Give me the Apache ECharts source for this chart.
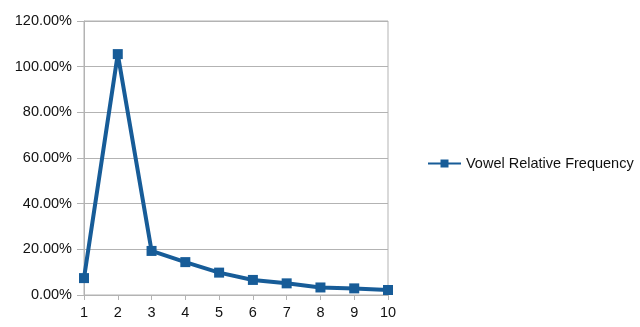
<!DOCTYPE html>
<html><head><meta charset="utf-8">
<script src="https://cdn.jsdelivr.net/npm/echarts@6/dist/echarts.min.js"></script>
<style>html,body{margin:0;padding:0;background:#fff}#c{width:640px;height:327px}</style>
</head><body><div id="c"></div>
<script>
const categories = ['1','2','3','4','5','6','7','8','9','10'];
const seriesName = 'Vowel Relative Frequency';
const values = [0.074, 1.055, 0.193, 0.144, 0.098, 0.066, 0.051, 0.033, 0.029, 0.022];
const yTicks = { min: 0, max: 1.2, interval: 0.2 };

const chart = echarts.init(document.getElementById('c'), null, {renderer:'canvas'});
const fontFamily = '"Liberation Sans", Arial, sans-serif';
chart.setOption({
  animation: false,
  grid: { left: 84, right: 252, top: 21, bottom: 32, show: true, borderColor: '#b3b3b3', borderWidth: 1 },
  legend: {
    data: [seriesName], left: 422, top: 151, orient: 'vertical',
    itemWidth: 33, itemHeight: 10, itemGap: 6,
    textStyle: { fontFamily, fontSize: 14.5, color: '#111' }
  },
  xAxis: {
    type: 'category', data: categories, boundaryGap: false,
    axisLine: { lineStyle: { color: '#b3b3b3' } },
    axisTick: { show: true, alignWithLabel: true, length: 5, lineStyle: { color: '#b3b3b3' } },
    axisLabel: { fontFamily, fontSize: 14.5, color: '#111', margin: 10 },
    splitLine: { show: false }
  },
  yAxis: {
    type: 'value', min: yTicks.min, max: yTicks.max, interval: yTicks.interval,
    axisLine: { show: true, lineStyle: { color: '#b3b3b3' } },
    axisTick: { show: true, length: 7, lineStyle: { color: '#b3b3b3' } },
    axisLabel: { fontFamily, fontSize: 14.5, color: '#111', margin: 12,
      formatter: v => (v * 100).toFixed(2) + '%' },
    splitLine: { lineStyle: { color: '#b3b3b3' } }
  },
  series: [{
    name: seriesName, type: 'line', data: values,
    symbol: 'rect', symbolSize: 10,
    lineStyle: { color: '#175c98', width: 4 },
    itemStyle: { color: '#175c98' }
  }]
});
</script></body></html>
